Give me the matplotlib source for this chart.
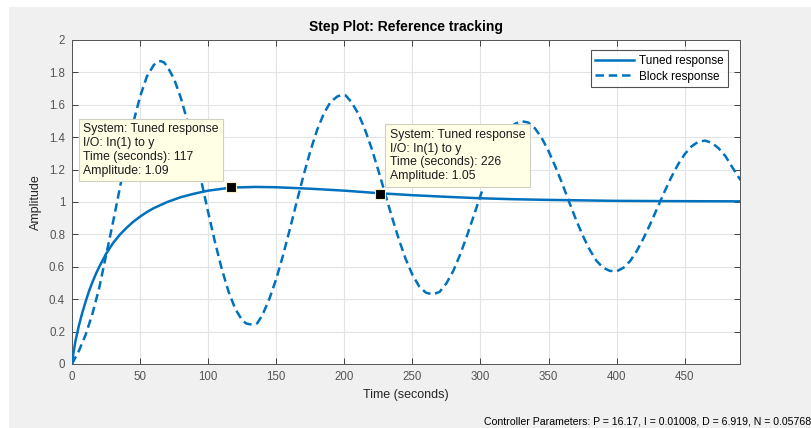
import matplotlib
matplotlib.use("Agg")
import matplotlib.pyplot as plt
from matplotlib.patches import Rectangle
from matplotlib.ticker import FormatStrFormatter

plt.rcParams["font.family"] = ["Liberation Sans", "DejaVu Sans"]

# tuned closed-loop step response
tuned_t = [0, 1, 2.5, 5, 7.5, 10, 12.5, 15, 17.5, 20, 25, 30, 35, 40, 45, 50,
           55, 60, 70, 80, 90, 100, 117, 135, 150, 175, 200, 226, 250, 275,
           300, 325, 350, 375, 400, 450, 491]
tuned_y = [0, 0.065, 0.14, 0.235, 0.315, 0.385, 0.45, 0.505, 0.555, 0.60,
           0.68, 0.745, 0.797, 0.84, 0.878, 0.91, 0.938, 0.962, 1.0, 1.03,
           1.052, 1.07, 1.089, 1.093, 1.091, 1.082, 1.07, 1.054, 1.042, 1.032,
           1.023, 1.017, 1.013, 1.01, 1.007, 1.005, 1.004]

# block (initial) response
block_t = [0, 5, 10, 15, 20, 25, 30, 35, 40, 45, 50, 55, 60, 62.5, 65, 67.5,
           70, 75, 80, 85, 90, 95, 100, 105, 110, 115, 120, 125, 128, 132,
           136, 140, 145, 150, 155, 160, 165, 170, 175, 180, 185, 190, 195,
           198, 201, 205, 210, 215, 220, 225, 230, 235, 240, 245, 250, 255,
           260, 265, 270, 275, 280, 285, 290, 295, 300, 305, 310, 315, 320,
           325, 330, 335, 340, 345, 350, 355, 360, 365, 370, 375, 380, 385,
           390, 395, 400, 405, 410, 415, 420, 425, 430, 435, 440, 445, 450,
           455, 460, 465, 470, 475, 480, 485, 491]
block_y = [0, 0.08, 0.18, 0.31, 0.47, 0.67, 0.87, 1.08, 1.29, 1.49, 1.65,
           1.775, 1.845, 1.864, 1.87, 1.862, 1.837, 1.759, 1.641, 1.491,
           1.316, 1.128, 0.937, 0.753, 0.587, 0.446, 0.339, 0.27, 0.25, 0.243,
           0.25, 0.305, 0.403, 0.525, 0.671, 0.832, 0.999, 1.162, 1.313,
           1.444, 1.547, 1.619, 1.652, 1.66, 1.658, 1.619, 1.55, 1.452, 1.332,
           1.195, 1.051, 0.907, 0.771, 0.65, 0.551, 0.479, 0.44, 0.43, 0.445,
           0.498, 0.574, 0.674, 0.789, 0.913, 1.039, 1.161, 1.271, 1.363,
           1.435, 1.481, 1.499, 1.491, 1.455, 1.395, 1.315, 1.219, 1.115,
           1.003, 0.895, 0.795, 0.709, 0.639, 0.595, 0.575, 0.572, 0.594,
           0.636, 0.700, 0.78, 0.869, 0.965, 1.06, 1.15, 1.23, 1.295, 1.343,
           1.372, 1.379, 1.365, 1.331, 1.282, 1.214, 1.135]

tip_t = [117, 226]
tip_y = [1.09, 1.05]

blue = "#0072BD"
axcol = "#262626"

fig = plt.figure(figsize=(8.12, 4.28), dpi=100, facecolor="white")
fig.patches.append(Rectangle((9 / 812, 0), 1, 421 / 428, transform=fig.transFigure,
                             facecolor="#f0f0f0", edgecolor="none", zorder=-10))

ax = fig.add_axes([72 / 812, 64 / 428, 668.5 / 812, 324 / 428])
ax.set_facecolor("white")

ax.plot(tuned_t, tuned_y, color=blue, lw=1.8, label="Tuned response", zorder=3)
ax.plot(block_t, block_y, color=blue, lw=1.8, ls=(0, (3.4, 1.9)),
        label="Block response", zorder=3)

ax.set_xlim(0, 491)
ax.set_ylim(0, 2)
ax.set_xticks(range(0, 451, 50))
ax.set_yticks([i / 5 for i in range(11)])
ax.yaxis.set_major_formatter(FormatStrFormatter("%g"))
ax.grid(True, color="#e3e3e3", lw=0.8)
ax.set_axisbelow(True)
ax.tick_params(direction="in", top=True, right=True, length=4, width=0.6,
               color=axcol, labelcolor="#555555", labelsize=8.3, pad=5)
for s in ax.spines.values():
    s.set_color("#555555")
    s.set_linewidth(0.7)

ax.set_title("Step Plot: Reference tracking", fontsize=10, fontweight="bold",
             color="black", pad=6.5)
ax.set_xlabel("Time (seconds)", fontsize=9, color="#262626", labelpad=4.5)
ax.set_ylabel("Amplitude", fontsize=9, color="#262626", labelpad=5)

leg = ax.legend(loc="upper right", fontsize=8.5, frameon=True, fancybox=False,
                bbox_to_anchor=(0.982, 0.969), borderaxespad=0,
                handlelength=3.3, labelspacing=0.32, borderpad=0.4,
                handletextpad=0.4)
leg.get_frame().set_edgecolor("#262626")
leg.get_frame().set_linewidth(0.8)

# data tips
ax.plot(tip_t, tip_y, ls="none", marker="s", ms=7, mfc="black", mec="#f5f0c8",
        mew=0.8, zorder=5)
offsets = [(-148, 64), (10, 65)]
for t, y, off in zip(tip_t, tip_y, offsets):
    txt = ("System: Tuned response\nI/O: In(1) to y\n"
           "Time (seconds): %d\nAmplitude: %.2f" % (t, y))
    ax.annotate(txt, (t, y), xytext=off, textcoords="offset pixels",
                ha="left", va="top", fontsize=8.8, color="#1a1a1a",
                linespacing=1.2, zorder=6,
                bbox=dict(boxstyle="square,pad=0.38", fc="#ffffe6",
                          ec="#d0d0c0", lw=0.8))

fig.text(811 / 812, 7 / 428, "Controller Parameters: P = 16.17, I = 0.01008, "
         "D = 6.919, N = 0.05768", ha="right", va="center", fontsize=7.6,
         color="black")

fig.savefig("out.png", dpi=100, facecolor=fig.get_facecolor())
